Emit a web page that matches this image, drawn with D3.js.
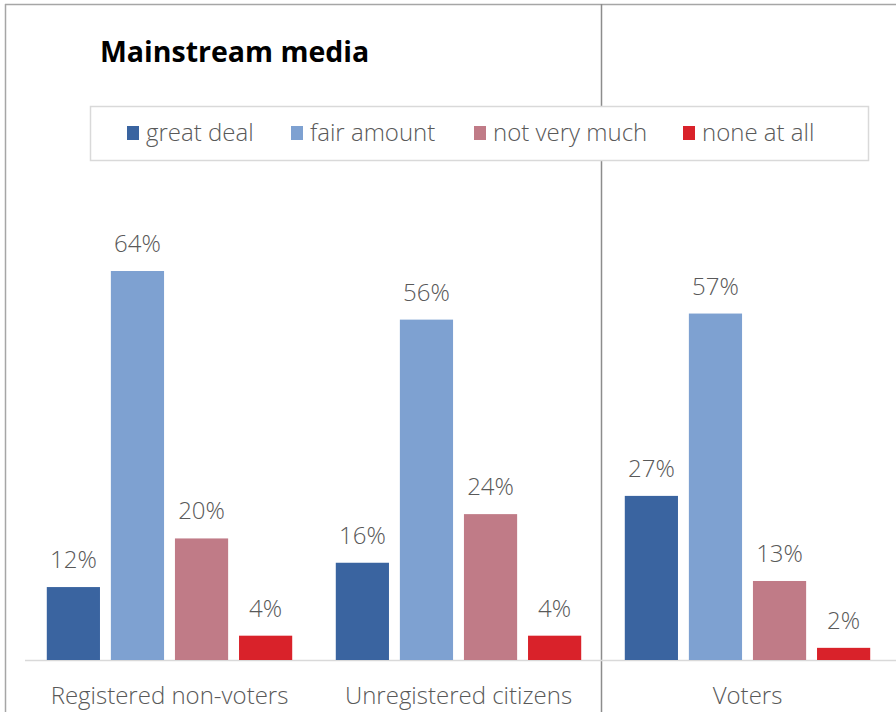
<!DOCTYPE html>
<html>
<head>
<meta charset="utf-8">
<script src="https://cdn.jsdelivr.net/npm/d3@7"></script>
<style>
  html, body { margin: 0; padding: 0; background: #fff; }
  svg { display: block; }
  text { font-family: "Open Sans", "Noto Sans", sans-serif; }
</style>
</head>
<body>
<svg id="chart" width="896" height="712"></svg>
<script>
// Share of each group trusting mainstream media, by degree of trust
const groups = ["Registered non-voters", "Unregistered citizens", "Voters"];
const levels = ["great deal", "fair amount", "not very much", "none at all"];
const greatDeal = [12, 16, 27];
const fairAmount = [64, 56, 57];
const notVeryMuch = [20, 24, 13];
const noneAtAll = [4, 4, 2];
const levelColors = ["#3A64A0", "#7EA1D1", "#C07B87", "#D9222A"];

const seriesValues = [greatDeal, fairAmount, notVeryMuch, noneAtAll];
const rows = groups.map((g, i) => ({
  group: g,
  values: levels.map((l, j) => ({ level: l, value: seriesValues[j][i] }))
}));

const svg = d3.select("#chart");
const W = 896, H = 712;
const plot = { left: 25, right: 892, top: 170, bottom: 660 };

const x0 = d3.scaleBand().domain(groups).range([plot.left, plot.right]).paddingInner(0).paddingOuter(0);
const x1 = d3.scaleBand().domain(levels).range([0, x0.bandwidth()]).paddingInner(0.17).paddingOuter(0.34);
const y = d3.scaleLinear().domain([0, 64]).range([plot.bottom, 271]);
const color = d3.scaleOrdinal().domain(levels).range(levelColors);
const textGrey = "#595959";

// outer frame (top and left edges visible)
svg.append("line").attr("x1", 5).attr("x2", W).attr("y1", 4.5).attr("y2", 4.5)
  .attr("stroke", "#a6a6a6").attr("stroke-width", 1.5);
svg.append("line").attr("x1", 5.5).attr("x2", 5.5).attr("y1", 4).attr("y2", H)
  .attr("stroke", "#a6a6a6").attr("stroke-width", 1.5);

// divider between non-voting groups and voters
svg.append("line").attr("x1", 601.5).attr("x2", 601.5).attr("y1", 4).attr("y2", H)
  .attr("stroke", "#8c8c8c").attr("stroke-width", 1.5);

// baseline
svg.append("line").attr("x1", plot.left).attr("x2", W).attr("y1", plot.bottom + 0.5).attr("y2", plot.bottom + 0.5)
  .attr("stroke", "#d9d9d9").attr("stroke-width", 1.5);

// bars
const g = svg.append("g").selectAll("g").data(rows).join("g")
  .attr("transform", d => `translate(${x0(d.group)},0)`);

g.selectAll("rect").data(d => d.values).join("rect")
  .attr("x", d => x1(d.level))
  .attr("y", d => y(d.value))
  .attr("width", x1.bandwidth())
  .attr("height", d => plot.bottom - y(d.value))
  .attr("fill", d => color(d.level));

g.selectAll("text.val").data(d => d.values).join("text")
  .attr("class", "val")
  .attr("x", d => x1(d.level) + x1.bandwidth() / 2)
  .attr("y", d => y(d.value) - 19)
  .attr("text-anchor", "middle")
  .attr("font-size", 24)
  .attr("font-weight", 300)
  .attr("fill", textGrey)
  .text(d => d.value + "%");

// category axis labels
const xAxis = d3.axisBottom(x0).tickSize(0).tickPadding(0);
const ax = svg.append("g").attr("transform", `translate(0,${plot.bottom})`).call(xAxis);
ax.select(".domain").remove();
ax.selectAll("text")
  .attr("y", 44)
  .attr("dy", 0)
  .attr("font-size", 24)
  .attr("font-weight", 300)
  .attr("font-family", "'Open Sans', 'Noto Sans', sans-serif")
  .attr("fill", textGrey);

// title
svg.append("text").attr("x", 100).attr("y", 62)
  .attr("font-size", 28.5).attr("font-weight", "bold").attr("fill", "#000")
  .text("Mainstream media");

// legend
svg.append("rect").attr("x", 90.5).attr("y", 106.5).attr("width", 778).attr("height", 54)
  .attr("fill", "#fff").attr("stroke", "#d9d9d9").attr("stroke-width", 1.5);

const legendX = [127, 291, 474, 683];
const lg = svg.append("g").selectAll("g").data(levels).join("g")
  .attr("transform", (d, i) => `translate(${legendX[i]},0)`);
lg.append("rect").attr("x", 0).attr("y", 126).attr("width", 12).attr("height", 14)
  .attr("fill", d => color(d));
lg.append("text").attr("x", 19).attr("y", 141)
  .attr("font-size", 24).attr("font-weight", 300).attr("fill", textGrey)
  .text(d => d);
</script>
</body>
</html>
